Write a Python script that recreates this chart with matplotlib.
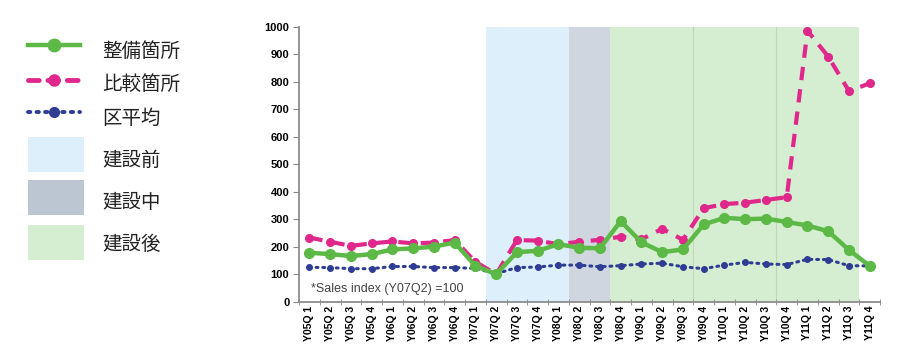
import matplotlib.pyplot as plt
from matplotlib.patches import Rectangle
import numpy as np

plt.rcParams['font.family'] = ['Liberation Sans', 'Noto Sans CJK JP', 'DejaVu Sans']

# --- datos
quarters = [f"Y{y:02d}Q{q}" for y in range(5, 12) for q in range(1, 5)]
tick_labels = [f"Y{y:02d}Q {q}" for y in range(5, 12) for q in range(1, 5)]

seibi = [178, 173, 166, 173, 190, 194, 200, 215, 130, 100, 180, 185, 209, 196,
         194, 293, 216, 180, 190, 281, 305, 300, 302, 290, 277, 256, 188, 130]
hikaku = [233, 218, 203, 212, 219, 212, 215, 224, 145, 100, 224, 222, 209, 218,
          225, 236, 227, 265, 225, 340, 355, 360, 370, 380, 985, 891, 766, 794]
ku_heikin = [125, 124, 120, 120, 128, 128, 124, 124, 121, 102, 124, 126, 133, 133,
             127, 131, 137, 140, 127, 120, 133, 143, 137, 135, 154, 153, 131, 130]

series_names = ["整備箇所", "比較箇所", "区平均"]
phase_names = ["建設前", "建設中", "建設後"]
phase_start = ["Y07Q2", "Y08Q2", "Y08Q4"]
phase_end = ["Y08Q1", "Y08Q3", "Y11Q3"]
year_marks = ["Y09Q4", "Y10Q4"]

c_green = "#5cb946"
c_pink = "#e0288c"
c_blue = "#2e3c94"
phase_colors = ["#ddeffa", "#cfd6e0", "#d5edd0"]
legend_patch_colors = ["#ddeffa", "#bcc6d3", "#d5edd0"]

fig = plt.figure(figsize=(8.99, 3.51), dpi=100)
ax = fig.add_axes([0.3326, 0.1405, 0.6464, 0.7835])

x = np.arange(len(quarters))

# fases de construccion
for nombre, ini, fin, col in zip(phase_names, phase_start, phase_end, phase_colors):
    a = quarters.index(ini) - 0.5
    b = quarters.index(fin) + 0.5
    ax.axvspan(a, b, color=col, lw=0, zorder=0)
for q in year_marks:
    ax.axvline(quarters.index(q) - 0.5, color="#bcd8b6", lw=0.8, zorder=0.5)

ax.plot(x, ku_heikin, color=c_blue, ls=(0, (0.6, 1.6)), lw=2.2, marker="o", ms=4,
        dash_capstyle="round", zorder=3)
ax.plot(x, hikaku, color=c_pink, ls=(0, (3.2, 2.2)), lw=3, marker="o", ms=5.5, zorder=4)
ax.plot(x, seibi, color=c_green, ls="-", lw=3.2, marker="o", ms=7, zorder=5)

ax.set_xlim(-0.5, len(quarters) - 0.5)
ax.set_ylim(0, 1000)
ax.set_yticks(np.arange(0, 1001, 100))
ax.tick_params(axis="y", direction="out", length=4, color="#888888", labelsize=8, pad=3)
for t in ax.get_yticklabels():
    t.set_fontweight("bold")

ax.set_xticks(x)
ax.set_xticklabels(tick_labels, rotation=90, fontsize=7.5, fontweight="bold")
ax.set_xticks(np.arange(-0.5, len(quarters), 1), minor=True)
ax.tick_params(axis="x", which="major", length=0, pad=3)
ax.tick_params(axis="x", which="minor", direction="inout", length=5, color="#888888")

for s in ["top", "right"]:
    ax.spines[s].set_visible(False)
for s in ["left", "bottom"]:
    ax.spines[s].set_color("#8c8c8c")
    ax.spines[s].set_linewidth(1.3)

ax.text(0.02, 0.045, "*Sales index (Y07Q2) =100", transform=ax.transAxes,
        fontsize=9, color="#444444", ha="left", va="center")

# leyenda manual en pixeles
lg = fig.add_axes([0, 0, 1, 1], zorder=-1)
lg.set_xlim(0, 899)
lg.set_ylim(351, 0)
lg.axis("off")

estilos = [
    dict(color=c_green, ls="-", lw=3.2, ms=9),
    dict(color=c_pink, ls=(0, (2.2, 1.8)), lw=3.5, ms=8),
    dict(color=c_blue, ls=(0, (0.6, 1.6)), lw=2.8, ms=7),
]
line_y = [45, 80, 112]
text_y = [51, 84, 118]
for nombre, st, ly, ty in zip(series_names, estilos, line_y, text_y):
    lg.plot([28, 80], [ly, ly], color=st["color"], ls=st["ls"], lw=st["lw"],
            dash_capstyle="round")
    lg.plot([54], [ly], color=st["color"], marker="o", ms=st["ms"])
    lg.text(102, ty, nombre, fontsize=14, va="center", ha="left", color="#222222",
            family=["Noto Sans CJK JP", "DejaVu Sans"])

patch_top = [137, 180, 225]
patch_text_y = [160, 202, 245]
for nombre, col, py, ty in zip(phase_names, legend_patch_colors, patch_top, patch_text_y):
    lg.add_patch(Rectangle((28, py), 56, 35, color=col, lw=0))
    lg.text(102, ty, nombre, fontsize=14, va="center", ha="left", color="#222222",
            family=["Noto Sans CJK JP", "DejaVu Sans"])

fig.savefig("out.png", dpi=100)
